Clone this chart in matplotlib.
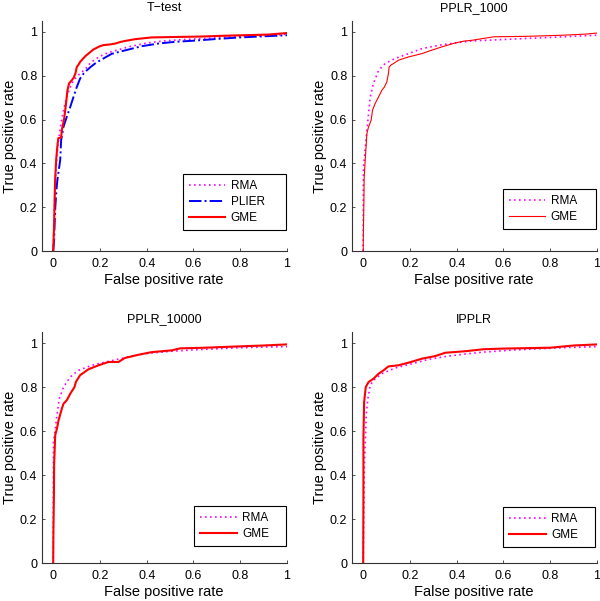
import matplotlib
matplotlib.use("Agg")
import matplotlib.pyplot as plt

plt.rcParams['font.family'] = ['Liberation Sans', 'DejaVu Sans']

titles = ["T\u2212test", "PPLR_1000", "PPLR_10000", "IPPLR"]
xlabel = "False positive rate"
ylabel = "True positive rate"
ticks = [0, 0.2, 0.4, 0.6, 0.8, 1]
tick_labels = ["0", "0.2", "0.4", "0.6", "0.8", "1"]

# T-test
ttest_gme_x = [0, 0.004, 0.006, 0.0085, 0.013, 0.018, 0.022, 0.034, 0.037, 0.047, 0.054, 0.061, 0.068, 0.08, 0.087, 0.095, 0.101, 0.108, 0.115, 0.137, 0.155, 0.172, 0.2, 0.215, 0.243, 0.265, 0.29, 0.308, 0.35, 0.42, 0.52, 0.63, 0.74, 0.85, 0.92, 1.0]
ttest_gme_y = [0, 0.12, 0.23, 0.33, 0.42, 0.48, 0.515, 0.518, 0.552, 0.605, 0.665, 0.734, 0.765, 0.78, 0.79, 0.81, 0.84, 0.85, 0.863, 0.889, 0.905, 0.92, 0.935, 0.94, 0.943, 0.947, 0.955, 0.959, 0.967, 0.975, 0.977, 0.979, 0.983, 0.986, 0.988, 0.995]
ttest_rma_x = [0, 0.003, 0.006, 0.01, 0.015, 0.022, 0.03, 0.04, 0.05, 0.06, 0.072, 0.085, 0.1, 0.115, 0.137, 0.16, 0.194, 0.222, 0.25, 0.29, 0.322, 0.393, 0.464, 0.55, 0.65, 0.75, 0.85, 0.93, 1.0]
ttest_rma_y = [0, 0.1, 0.22, 0.33, 0.42, 0.5, 0.56, 0.62, 0.67, 0.71, 0.745, 0.775, 0.795, 0.81, 0.83, 0.86, 0.885, 0.9, 0.91, 0.922, 0.932, 0.948, 0.958, 0.965, 0.97, 0.977, 0.981, 0.985, 0.99]
ttest_plier_x = [0, 0.004, 0.006, 0.009, 0.014, 0.018, 0.024, 0.03, 0.034, 0.044, 0.058, 0.073, 0.087, 0.101, 0.115, 0.13, 0.144, 0.16, 0.179, 0.2, 0.215, 0.25, 0.308, 0.379, 0.45, 0.521, 0.6, 0.7, 0.8, 0.9, 1.0]
ttest_plier_y = [0, 0.05, 0.12, 0.2, 0.28, 0.325, 0.37, 0.415, 0.506, 0.567, 0.612, 0.658, 0.704, 0.749, 0.787, 0.81, 0.825, 0.84, 0.856, 0.87, 0.879, 0.9, 0.916, 0.935, 0.947, 0.955, 0.96, 0.968, 0.975, 0.98, 0.985]

# PPLR_1000
p1k_gme_x = [0, 0.001, 0.003, 0.004, 0.0086, 0.016, 0.023, 0.034, 0.04, 0.051, 0.066, 0.08, 0.091, 0.101, 0.108, 0.111, 0.12, 0.13, 0.151, 0.194, 0.251, 0.294, 0.337, 0.394, 0.43, 0.465, 0.5, 0.56, 0.7, 0.85, 0.95, 1.0]
p1k_gme_y = [0, 0.1, 0.23, 0.331, 0.415, 0.537, 0.567, 0.597, 0.643, 0.673, 0.704, 0.734, 0.749, 0.772, 0.81, 0.84, 0.85, 0.856, 0.871, 0.886, 0.901, 0.917, 0.932, 0.95, 0.958, 0.962, 0.968, 0.978, 0.98, 0.985, 0.99, 0.995]
p1k_rma_x = [0, 0.001, 0.005, 0.009, 0.016, 0.023, 0.03, 0.044, 0.066, 0.094, 0.137, 0.194, 0.251, 0.322, 0.394, 0.465, 0.55, 0.65, 0.8, 0.9, 1.0]
p1k_rma_y = [0, 0.384, 0.42, 0.47, 0.552, 0.628, 0.704, 0.765, 0.825, 0.856, 0.879, 0.901, 0.924, 0.939, 0.95, 0.959, 0.963, 0.968, 0.975, 0.98, 0.985]

# PPLR_10000
p10k_gme_x = [0, 0.001, 0.003, 0.004, 0.0085, 0.016, 0.023, 0.037, 0.044, 0.058, 0.073, 0.091, 0.097, 0.115, 0.151, 0.194, 0.236, 0.279, 0.306, 0.365, 0.422, 0.507, 0.543, 0.65, 0.771, 0.9, 1.0]
p10k_gme_y = [0, 0.15, 0.3, 0.45, 0.582, 0.612, 0.65, 0.703, 0.725, 0.741, 0.771, 0.801, 0.824, 0.855, 0.882, 0.9, 0.915, 0.915, 0.933, 0.948, 0.96, 0.968, 0.977, 0.98, 0.985, 0.99, 0.995]
p10k_rma_x = [0, 0.001, 0.005, 0.009, 0.016, 0.026, 0.044, 0.073, 0.108, 0.165, 0.236, 0.322, 0.393, 0.507, 0.6, 0.7, 0.8, 0.9, 1.0]
p10k_rma_y = [0, 0.55, 0.58, 0.612, 0.673, 0.748, 0.801, 0.847, 0.877, 0.9, 0.918, 0.938, 0.953, 0.964, 0.97, 0.975, 0.98, 0.983, 0.985]

# IPPLR
ipplr_gme_x = [0, 0.001, 0.001, 0.004, 0.011, 0.023, 0.044, 0.066, 0.087, 0.108, 0.151, 0.194, 0.251, 0.308, 0.351, 0.437, 0.515, 0.6, 0.8, 0.9, 1.0]
ipplr_gme_y = [0, 0.3, 0.566, 0.733, 0.801, 0.824, 0.839, 0.862, 0.877, 0.895, 0.9, 0.912, 0.93, 0.942, 0.957, 0.964, 0.973, 0.976, 0.98, 0.99, 0.995]
ipplr_rma_x = [0, 0.005, 0.009, 0.013, 0.02, 0.03, 0.044, 0.08, 0.137, 0.208, 0.279, 0.365, 0.451, 0.515, 0.65, 0.85, 1.0]
ipplr_rma_y = [0, 0.45, 0.551, 0.673, 0.748, 0.809, 0.832, 0.862, 0.888, 0.907, 0.927, 0.942, 0.953, 0.96, 0.97, 0.98, 0.985]

W, H = 600, 601
fig = plt.figure(figsize=(W / 100, H / 100), dpi=100)

def px_axes(l, t, r, b):
    return fig.add_axes([l / W, 1 - b / H, (r - l) / W, (b - t) / H])

ax_rects = [
    (41.5, 21, 287, 251),
    (351.5, 21, 597, 251),
    (41.5, 332.3, 287, 563.3),
    (351.5, 332.3, 597, 563.3),
]
legend_boxes = [
    (0.576, 0.091, 0.42),
    (0.616, 0.094, 0.38),
    (0.622, 0.075, 0.374),
    (0.618, 0.072, 0.373),
]

RMA_C = '#ff00ff'
PLIER_C = '#0000ff'
GME_C = '#ff0000'

series = [
    [("RMA", ttest_rma_x, ttest_rma_y, RMA_C, ':', 1.2),
     ("PLIER", ttest_plier_x, ttest_plier_y, PLIER_C, '-.', 1.4),
     ("GME", ttest_gme_x, ttest_gme_y, GME_C, '-', 1.5)],
    [("RMA", p1k_rma_x, p1k_rma_y, RMA_C, ':', 1.2),
     ("GME", p1k_gme_x, p1k_gme_y, GME_C, '-', 0.8)],
    [("RMA", p10k_rma_x, p10k_rma_y, RMA_C, ':', 1.2),
     ("GME", p10k_gme_x, p10k_gme_y, GME_C, '-', 1.5)],
    [("RMA", ipplr_rma_x, ipplr_rma_y, RMA_C, ':', 1.2),
     ("GME", ipplr_gme_x, ipplr_gme_y, GME_C, '-', 1.5)],
]

for i in range(4):
    ax = px_axes(*ax_rects[i])
    for (lab, xs, ys, c, ls, lw) in series[i]:
        line, = ax.plot(xs, ys, color=c, linestyle=ls, linewidth=lw, label=lab)
        if ls == ':':
            line.set_dashes((1, 2.0))
    ax.set_xlim(-0.05, 1)
    ax.set_ylim(0, 1.05)
    ax.set_xticks(ticks)
    ax.set_xticklabels(tick_labels)
    ax.set_yticks(ticks)
    ax.set_yticklabels(tick_labels)
    ax.tick_params(direction='in', length=2.5, width=0.6, labelsize=9,
                   colors='#333333', labelcolor='black')
    ax.tick_params(axis='x', pad=5)
    ax.tick_params(axis='y', pad=3)
    for s in ['top', 'right']:
        ax.spines[s].set_visible(False)
    for s in ['left', 'bottom']:
        ax.spines[s].set_color('#333333')
        ax.spines[s].set_linewidth(0.8)
    ax.set_title(titles[i], fontsize=9, pad=7)
    ax.set_xlabel(xlabel, fontsize=10.5, labelpad=2)
    ax.set_ylabel(ylabel, fontsize=10.5, labelpad=2)
    lx, ly, lw_ = legend_boxes[i]
    leg = ax.legend(loc='lower left', bbox_to_anchor=(lx, ly, lw_, 0.2),
                    mode='expand', borderaxespad=0, fontsize=8.5,
                    handlelength=3.1, handletextpad=0.45, labelspacing=0.35,
                    borderpad=0.5, fancybox=False, framealpha=1)
    leg.get_frame().set_edgecolor('black')
    leg.get_frame().set_linewidth(0.8)

fig.savefig("out.png", dpi=100)
